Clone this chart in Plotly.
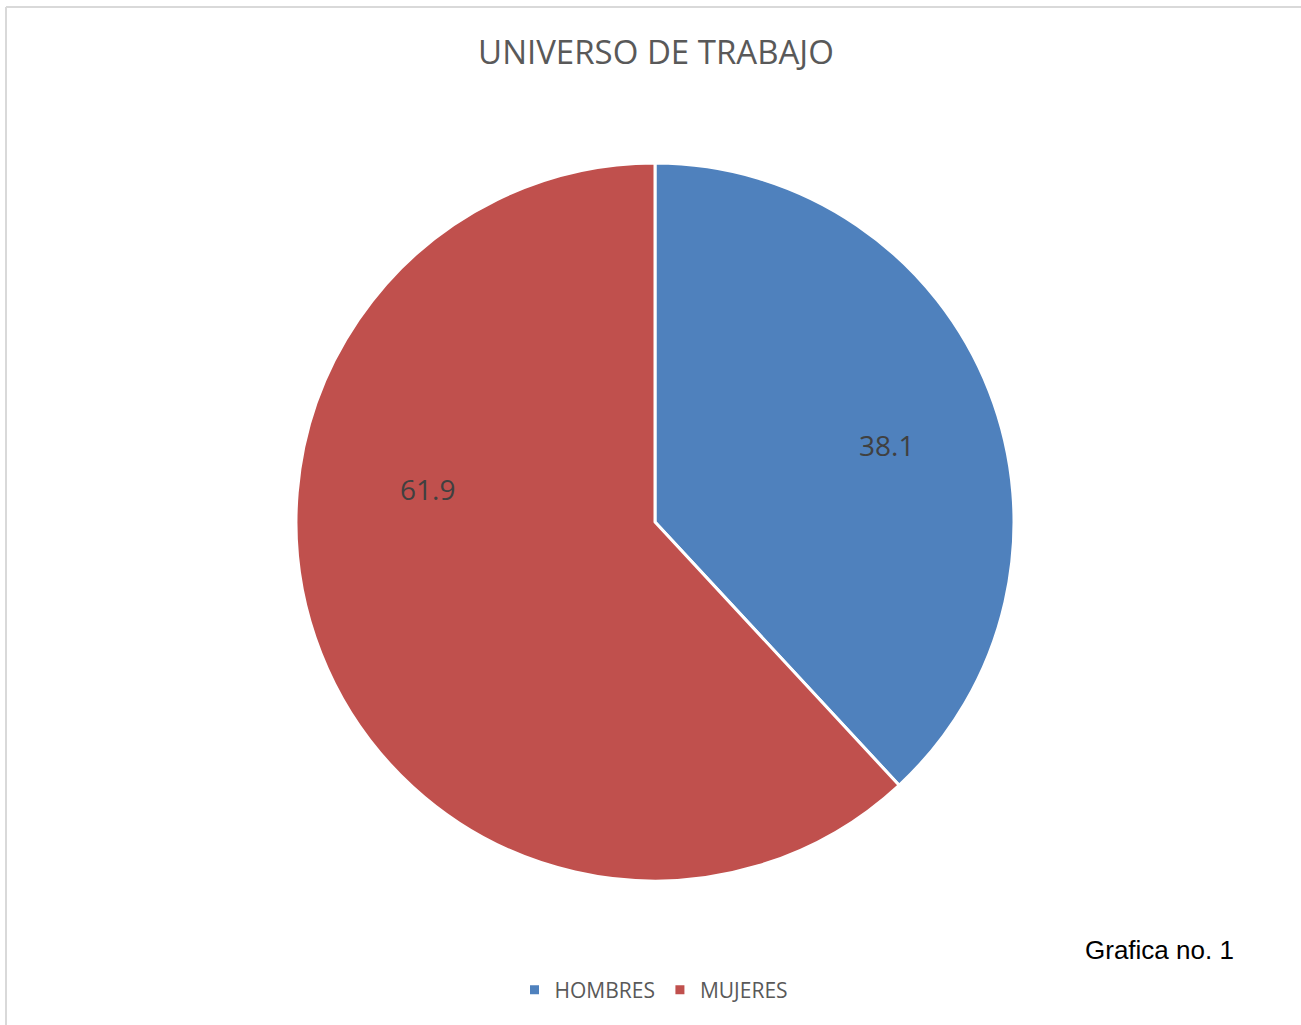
import math
import plotly.graph_objects as go

labels = ["HOMBRES", "MUJERES"]
values = [38.1, 61.9]
colors = ["#4F81BD", "#C0504D"]
# data-label anchor positions (fraction of radius, angle clockwise from 12 o'clock, degrees)
label_pos = [(0.68, 71.6), (0.64, 278.2)]

W, H = 1301, 1025
cx, cy, R = 655, 522, 359

fig = go.Figure()
fig.add_trace(go.Pie(
    labels=labels,
    values=values,
    textinfo="none",
    marker=dict(colors=colors, line=dict(color="white", width=3)),
    sort=False,
    direction="clockwise",
    rotation=0,
    domain=dict(x=[(cx - R) / W, (cx + R) / W], y=[(H - cy - R) / H, (H - cy + R) / H]),
    hoverinfo="label+value",
))

annotations = []
for v, (rf, ang) in zip(values, label_pos):
    a = math.radians(ang)
    px = cx + rf * R * math.sin(a)
    py = cy - rf * R * math.cos(a)
    annotations.append(dict(text=f"{v}", xref="paper", yref="paper", x=px / W, y=1 - py / H,
                            xanchor="center", yanchor="middle", showarrow=False,
                            font=dict(family="Open Sans", size=28, color="#404040")))

annotations.append(dict(text="Grafica no. 1", xref="paper", yref="paper", x=1236 / W, y=1 - 950 / H,
                        xanchor="right", yanchor="middle", showarrow=False,
                        font=dict(family="Arial", size=26, color="black")))

fig.update_layout(
    width=W, height=H,
    margin=dict(l=0, r=0, t=0, b=0),
    paper_bgcolor="white",
    plot_bgcolor="white",
    title=dict(text="UNIVERSO DE TRABAJO", x=656 / W, xanchor="center",
               y=1 - 52 / H, yanchor="middle",
               font=dict(family="Open Sans", size=33, color="#595959")),
    showlegend=True,
    legend=dict(orientation="h", x=654 / W, xanchor="center", y=1 - 990 / H, yanchor="middle",
                font=dict(family="Open Sans", size=21, color="#595959"),
                itemwidth=30, tracegroupgap=0),
    shapes=[
        dict(type="line", xref="paper", yref="paper", x0=6 / W, x1=1.01, y0=1 - 7 / H, y1=1 - 7 / H,
             line=dict(color="#D9D9D9", width=2)),
        dict(type="line", xref="paper", yref="paper", x0=6 / W, x1=6 / W, y0=-0.01, y1=1 - 7 / H,
             line=dict(color="#D9D9D9", width=2)),
    ],
    annotations=annotations,
)

fig.write_html("out.html", config={"displayModeBar": False},
               post_script="document.body.style.margin='0';")
